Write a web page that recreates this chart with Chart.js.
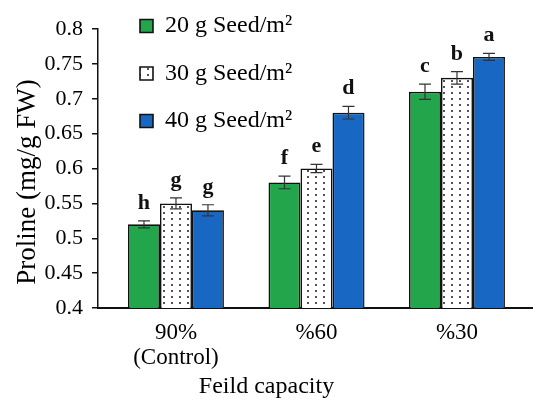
<!DOCTYPE html>
<html><head><meta charset="utf-8">
<script src="https://cdn.jsdelivr.net/npm/chart.js@4.4.1/dist/chart.umd.min.js"></script>
<style>html,body{margin:0;padding:0;background:#fff}#wrap{width:533px;height:404px}</style>
</head><body><div id="wrap"><canvas id="c" width="533" height="404"></canvas></div>
<script>
const categories = [["90%", "(Control)"], "%60", "%30"];
const seriesNames = ["20 g Seed/m\u00B2", "30 g Seed/m\u00B2", "40 g Seed/m\u00B2"];
const seed20 = [0.52, 0.58, 0.71];
const seed30 = [0.55, 0.60, 0.73];
const seed40 = [0.54, 0.68, 0.76];
const err20 = [0.005, 0.009, 0.011];
const err30 = [0.008, 0.006, 0.009];
const err40 = [0.008, 0.009, 0.005];
const letters20 = ["h", "f", "c"];
const letters30 = ["g", "e", "b"];
const letters40 = ["g", "d", "a"];
const yTicks = [0.4, 0.45, 0.5, 0.55, 0.6, 0.65, 0.7, 0.75, 0.8];
const xTitle = "Feild capacity";
const yTitle = "Proline (mg/g FW)";

const FAM = "'Liberation Serif', 'Times New Roman', serif";

function makeDots() {
  const c = document.createElement('canvas');
  c.width = 8; c.height = 6;
  const g = c.getContext('2d');
  g.fillStyle = '#ffffff'; g.fillRect(0, 0, 8, 6);
  g.fillStyle = '#1a1a1a';
  g.beginPath(); g.arc(4, 3, 1, 0, Math.PI * 2); g.fill();
  return g.createPattern(c, 'repeat');
}
const dots = makeDots();

const seriesVals = [seed20, seed30, seed40];
const seriesErr = [err20, err30, err40];
const seriesLetters = [letters20, letters30, letters40];
const fills = ['#22a54b', dots, '#1868c3'];

const datasets = seriesVals.map((vals, k) => ({
  label: seriesNames[k],
  data: vals.map((v, i) => ({ x: i, y: v })),
  backgroundColor: fills[k],
  borderColor: '#111',
  borderWidth: 1.6,
  categoryPercentage: 0.683,
  barPercentage: 1.0
}));

const shadowPlugin = {
  id: 'shadow',
  beforeDatasetDraw(chart, args) {
    if (args.index === 2) {
      const ctx = chart.ctx;
      ctx.save();
      ctx.shadowColor = 'rgba(110,80,50,0.4)';
      ctx.shadowBlur = 8;
      ctx.shadowOffsetX = 6;
      ctx.shadowOffsetY = 2;
    }
  },
  afterDatasetDraw(chart, args) {
    if (args.index === 2) chart.ctx.restore();
  }
};

const errPlugin = {
  id: 'errbars',
  afterDatasetsDraw(chart) {
    const ctx = chart.ctx;
    const ys = chart.scales.y;
    ctx.save();
    seriesVals.forEach((vals, k) => {
      const meta = chart.getDatasetMeta(k);
      meta.data.forEach((bar, i) => {
        const x = bar.x;
        const hi = ys.getPixelForValue(vals[i] + seriesErr[k][i]);
        const lo = ys.getPixelForValue(vals[i] - seriesErr[k][i]);
        ctx.strokeStyle = '#333';
        ctx.lineWidth = 1.2;
        ctx.beginPath();
        ctx.moveTo(x, hi); ctx.lineTo(x, lo);
        ctx.moveTo(x - 6, hi); ctx.lineTo(x + 6, hi);
        ctx.moveTo(x - 6, lo); ctx.lineTo(x + 6, lo);
        ctx.stroke();
        ctx.fillStyle = '#111';
        ctx.font = "bold 22px " + FAM;
        ctx.textAlign = 'center';
        ctx.textBaseline = 'alphabetic';
        ctx.fillText(seriesLetters[k][i], x, hi - 12);
      });
    });
    ctx.restore();
  }
};

const legendPos = {
  id: 'legendPos',
  beforeDraw(chart) {
    const l = chart.legend;
    if (!l) return;
    l.left = 116.5; l.top = -9.5;
    l.width = 320; l.height = 410;
    l.right = l.left + l.width; l.bottom = l.top + l.height;
  }
};

new Chart(document.getElementById('c'), {
  type: 'bar',
  data: { datasets },
  options: {
    responsive: false,
    animation: false,
    devicePixelRatio: 1,
    layout: { padding: { top: 29, left: 0, right: 0, bottom: 0 } },
    plugins: {
      legend: {
        position: 'chartArea',
        align: 'start',
        labels: {
          font: { family: FAM, size: 24 },
          color: '#000',
          boxWidth: 13, boxHeight: 13,
          padding: 23.5
        }
      },
      title: {
        display: true,
        text: xTitle,
        position: 'bottom',
        color: '#000',
        font: { family: FAM, size: 24, weight: 'normal' },
        padding: { top: 0, bottom: 2.6 }
      },
      tooltip: { enabled: false }
    },
    scales: {
      x: {
        type: 'linear',
        min: -0.555,
        max: 2.541,
        offset: false,
        afterBuildTicks: s => { s.ticks = categories.map((c, i) => ({ value: i })); },
        afterFit: s => { s.height = 64.6; },
        ticks: {
          callback: v => categories[v],
          font: { family: FAM, size: 23, lineHeight: 1.1 },
          color: '#000',
          padding: 12.3,
          maxRotation: 0,
          autoSkip: false
        },
        grid: { display: false, drawTicks: false, offset: false },
        border: { display: true, color: '#111', width: 2 }
      },
      y: {
        min: 0.4,
        max: 0.8,
        afterBuildTicks: s => { s.ticks = yTicks.map(v => ({ value: v })); },
        afterFit: s => { s.width = 98; },
        ticks: {
          callback: v => String(+Number(v).toFixed(2)),
          font: { family: FAM, size: 22 },
          color: '#000',
          padding: 9
        },
        grid: { drawOnChartArea: false, drawTicks: true, tickLength: 6, color: '#111', lineWidth: 1.5 },
        border: { display: true, color: '#111', width: 1.5 },
        title: {
          display: true,
          text: yTitle + '    ',
          color: '#000',
          font: { family: FAM, size: 27 },
          padding: { top: 11.8, bottom: 0 }
        }
      }
    }
  },
  plugins: [shadowPlugin, errPlugin, legendPos]
});
</script>
</body></html>
